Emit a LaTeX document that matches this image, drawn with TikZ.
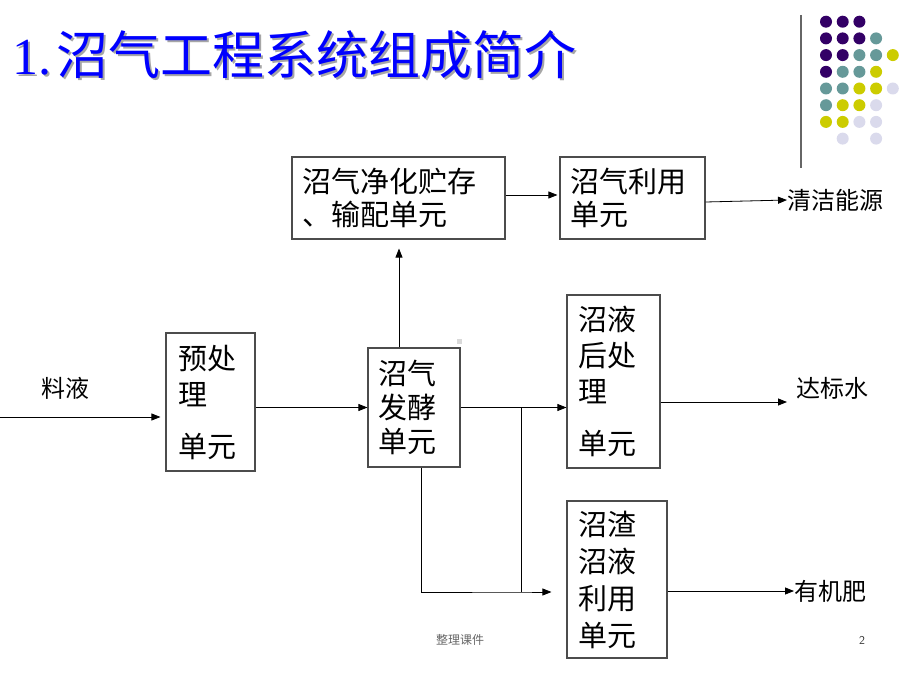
\documentclass[tikz,border=0pt]{standalone}
\usepackage{fontspec}
\setmainfont{Liberation Serif}
\newfontfamily\cjk{Noto Sans CJK SC}
\usepackage{xcolor}
\usetikzlibrary{arrows.meta, positioning, calc}
\definecolor{dotpurple}{HTML}{330066}
\definecolor{dotteal}{HTML}{669999}
\definecolor{dotolive}{HTML}{CCCC00}
\definecolor{dotlilac}{HTML}{DADAEC}
\definecolor{titleblue}{HTML}{0000FF}

\begin{document}
\begin{tikzpicture}[
    x=1pt, y=-1pt,
    unit/.style={rectangle, draw=black!70, line width=1.1pt, inner ysep=0pt, inner xsep=10pt, align=left, font=\cjk\fontsize{29pt}{35pt}\selectfont},
    outlabel/.style={inner sep=0pt, font=\cjk\fontsize{24pt}{28pt}\selectfont},
    arrow/.style={-{Triangle[length=9pt, width=7pt]}, line width=0.8pt},
    link/.style={line width=0.8pt},
    dot/.style={circle, inner sep=0pt, minimum size=12pt}
]
\useasboundingbox (0,0) rectangle (920,690);

% Title
\node[anchor=base west, text=black!35, inner sep=0pt] (titleshadow) at (14,77)
    {\fontsize{52pt}{60pt}\selectfont 1.\hspace{5pt}{\cjk 沼气工程系统组成简介}};
\node[anchor=base west, text=titleblue, inner sep=0pt] (title) at (12,75)
    {\fontsize{52pt}{60pt}\selectfont 1.\hspace{5pt}{\cjk 沼气工程系统组成简介}};

% Corner decoration
\draw[black!60, line width=1.5pt] (801,15) coordinate (bartop) -- (801,168) coordinate (barbot);
\foreach \c/\r/\col in {0/0/dotpurple, 1/0/dotpurple, 2/0/dotpurple,
    0/1/dotpurple, 1/1/dotpurple, 2/1/dotpurple, 3/1/dotteal,
    0/2/dotpurple, 1/2/dotpurple, 2/2/dotteal, 3/2/dotteal, 4/2/dotolive,
    0/3/dotpurple, 1/3/dotteal, 2/3/dotteal, 3/3/dotolive,
    0/4/dotteal, 1/4/dotteal, 2/4/dotolive, 3/4/dotolive, 4/4/dotlilac,
    0/5/dotteal, 1/5/dotolive, 2/5/dotolive, 3/5/dotlilac,
    0/6/dotolive, 1/6/dotolive, 2/6/dotlilac, 3/6/dotlilac,
    1/7/dotlilac, 3/7/dotlilac}
  \node[dot, fill=\col] (d-\c-\r) at (826+16.7*\c, 21.7+16.7*\r) {};

% Main nodes
\node[unit, text width=193pt, minimum height=82pt, font=\cjk\fontsize{29pt}{33pt}\selectfont] (purify) at (398.5,198) {沼气净化贮存\\、输配单元};
\node[unit, text width=125pt, minimum height=82pt, font=\cjk\fontsize{29pt}{33pt}\selectfont] (gasuse) at (632.5,198) {沼气利用\\单元};
\node[unit, text width=65pt, inner xsep=12pt, minimum height=138pt, font=\cjk\fontsize{29pt}{36pt}\selectfont] (pretreat) at (210.5,402) {预处\\理\\[16pt]单元};
\node[unit, text width=72pt, minimum height=119pt, font=\cjk\fontsize{29pt}{34pt}\selectfont] (digest) at (414,407.5) {沼气\\发酵\\单元};
\node[unit, text width=71pt, inner xsep=11pt, minimum height=173pt, font=\cjk\fontsize{29pt}{36pt}\selectfont] (liqpost) at (613.5,381.5) {沼液\\后处\\理\\[16pt]单元};
\node[unit, text width=78pt, inner xsep=11pt, minimum height=157pt, font=\cjk\fontsize{29pt}{37pt}\selectfont] (residue) at (617,579.5) {沼渣\\沼液\\利用\\单元};

% Outputs
\node[outlabel] (feed) at (65,388) {料液};
\node[outlabel, anchor=west] (energy) at (787,200) {清洁能源};
\node[outlabel] (water) at (832,388) {达标水};
\node[outlabel, anchor=west] (fert) at (794,591) {有机肥};

% Arrows
\coordinate (inlet) at (0,417);
\draw[arrow, shorten >=5pt] (inlet) -- (inlet -| pretreat.west);
\draw[arrow] (pretreat.east |- digest) -- (digest.west);
\draw[arrow, shorten >=9pt] ([xshift=-15pt]digest.north) -- ([xshift=-15pt]digest.north |- purify.south);
\draw[arrow, shorten >=2pt] ([yshift=3pt]purify.east) -- ([yshift=3pt]gasuse.west);
\draw[arrow] ([yshift=-4pt]gasuse.east) -- (energy.west);
\draw[arrow] (digest.east) -- (digest.east -| liqpost.west);
\coordinate (waterend) at (787,402);
\draw[arrow] (liqpost.east |- waterend) -- (waterend);
\draw[arrow] (residue.east |- fert) -- (fert.west);

% Branch to residue unit
\coordinate (split) at ($(digest.east)+(61,0)$);
\coordinate (merge) at (split |- 0,592);
\draw[link] (split) -- (merge);
\draw[arrow, shorten >=15pt] ([xshift=7pt]digest.south) |- (merge) -- (merge -| residue.west);

% Footer
\fill[black!15] (456.5,338.5) rectangle (461.5,343.5);
\node[text=black!60, font=\cjk\fontsize{12pt}{14pt}\selectfont] (footer) at (460,640) {整理课件};
\node[text=black!80, font=\fontsize{12pt}{14pt}\selectfont\sffamily] (pagenum) at (862,640) {2};

\end{tikzpicture}
\end{document}
